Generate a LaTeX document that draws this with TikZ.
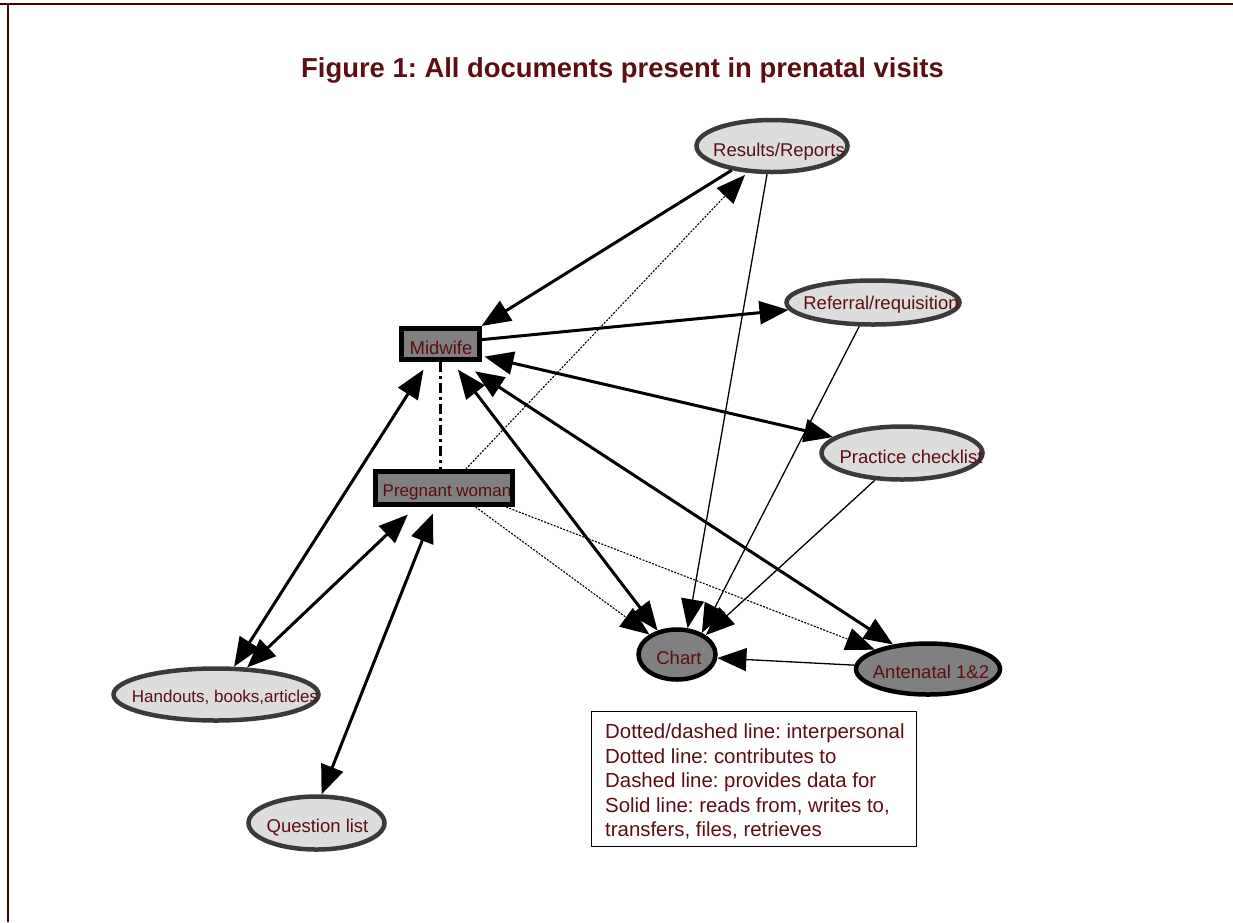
\documentclass[tikz,border=0pt]{standalone}
\usepackage{fontspec}
\setmainfont{Liberation Sans}
\usetikzlibrary{shapes.geometric,arrows.meta}
\frenchspacing

\definecolor{inkred}{RGB}{92,14,18}
\definecolor{framered}{RGB}{77,0,0}
\definecolor{docfill}{RGB}{221,221,221}
\definecolor{docedge}{RGB}{58,58,58}
\definecolor{keyfill}{RGB}{128,128,128}

% label: #1 = extra space on the left (shifts text right by half),
% #2 = baseline drop below the node centre, #3 = text
\newcommand{\lbl}[3]{\raisebox{-#2}[0pt][0pt]{\makebox[0pt]{\hspace*{#1}#3}}}

\tikzset{
  docnode/.style={ellipse, draw=docedge, fill=docfill, line width=4.5pt,
    inner sep=0pt, text=inkred, font=\fontsize{18.5}{22}\selectfont},
  keynode/.style={ellipse, draw=black, fill=keyfill, line width=4.5pt,
    inner sep=0pt, text=inkred, font=\fontsize{18.5}{22}\selectfont},
  actor/.style={rectangle, draw=black, fill=keyfill, line width=5pt,
    inner sep=0pt, text=inkred, font=\fontsize{18.5}{22}\selectfont},
  uses/.style={line width=3pt},
  feeds/.style={line width=1.3pt, ->},
  contrib/.style={line width=1.1pt, dash pattern=on 2pt off 1.4pt, ->},
  interp/.style={line width=3pt, dash pattern=on 10pt off 4pt on 3pt off 4pt},
}

\begin{document}
\begin{tikzpicture}[x=1pt, y=-1pt, >={Triangle[length=29pt,width=23pt]}]
\useasboundingbox (0,0) rectangle (1233,922);

% page frame
\draw[framered, line width=1.8pt] (0,4.2) -- (1233,4.2);
\draw[framered, line width=1.4pt] (8,4.2) -- (8,922);

% title
\node[anchor=base, text=inkred, font=\fontsize{27.4}{32}\selectfont\bfseries]
  (title) at (622.5,77) {Figure 1: All documents present in prenatal visits};

% people
\node[actor, minimum width=78pt, minimum height=31pt] (mw) at (440,344)
  {\lbl{2pt}{10pt}{Midwife}};
\node[actor, minimum width=137pt, minimum height=33pt,
  font=\fontsize{17}{20}\selectfont] (pw) at (444,488)
  {\lbl{6pt}{8pt}{Pregnant woman}};

% documents
\node[docnode, minimum width=151pt, minimum height=52pt] (res) at (772,146)
  {\lbl{14pt}{10.5pt}{Results/Reports}};
\node[docnode, minimum width=173pt, minimum height=44pt] (ref) at (873,302.5)
  {\lbl{16pt}{7pt}{Referral/requisition}};
\node[docnode, minimum width=161pt, minimum height=53pt] (pc) at (902,453)
  {\lbl{18pt}{10pt}{Practice checklist}};
\node[keynode, minimum width=77pt, minimum height=50pt] (ch) at (677,654.5)
  {\lbl{4pt}{9.5pt}{Chart}};
\node[keynode, minimum width=144pt, minimum height=51pt] (ant) at (928,669)
  {\lbl{6pt}{9.3pt}{Antenatal 1\&2}};
\node[docnode, minimum width=205pt, minimum height=52pt,
  font=\fontsize{17}{20}\selectfont] (ho) at (216,694.5)
  {\lbl{18pt}{8pt}{Handouts, books,articles}};
\node[docnode, minimum width=136pt, minimum height=53pt] (ql) at (316.5,823)
  {\lbl{2pt}{9pt}{Question list}};

% interpersonal link
\draw[interp] (mw.south) -- (mw.south |- pw.north);

% reads / writes / transfers
\draw[uses, ->] (res.211) -- (mw.north east);
\draw[uses, ->] (mw.6) -- (ref.185);
\draw[uses, <->, shorten <=3pt] (mw.-16) -- (pc.167);
\draw[uses, <->, shorten <=17pt] (mw.-41.5) -- (ant.145);
\draw[uses, <->, shorten <=9.5pt] (mw.-56) -- (ch.129);
\draw[uses, <->, shorten <=9pt] (mw.237) -- (ho.57);
\draw[uses, <->, shorten <=11pt] (pw.214) -- (ho.41);
\draw[uses, <->, shorten <=7pt] (pw.246) -- (ql.80);

% contributions from the pregnant woman
\draw[contrib, shorten >=3pt] (pw.41) -- (res.227);
\draw[contrib] (pw.-31) -- (ch.144);
\draw[contrib] (pw.-17) -- (ant.160);

% data flowing into the chart
\draw[feeds] (res.-100) -- (ch.68);
\draw[feeds] (ref.-120) -- (ch.41);
\draw[feeds] (pc.-135) -- (ch.34);
\draw[feeds] (ant.177) -- (ch.-5);

% key
\node[draw, line width=0.9pt, minimum width=325pt, minimum height=135pt,
  anchor=north west, inner sep=0pt] (key) at (591,711) {};
\node[anchor=north west, align=left, inner sep=0pt, text=inkred,
  font=\fontsize{20.4}{24.5}\selectfont] (keytext) at (605,723.5)
  {Dotted/dashed line: interpersonal\\
   Dotted line: contributes to\\
   Dashed line: provides data for\\
   Solid line: reads from, writes to,\\
   transfers, files, retrieves};
\end{tikzpicture}
\end{document}
